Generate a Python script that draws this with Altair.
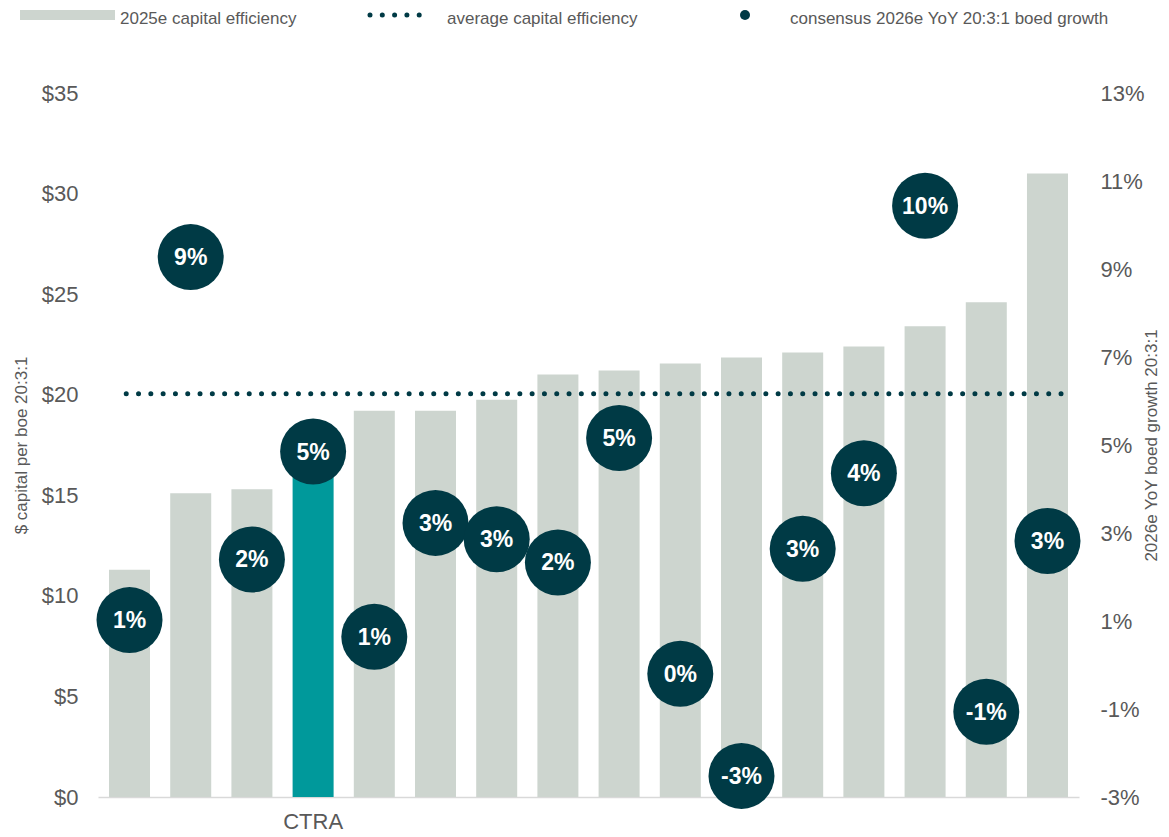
import json
import altair as alt
import pandas as pd

# ---- data ----
tickers = ["", "", "", "CTRA", "", "", "", "", "", "", "", "", "", "", "", ""]
capital_efficiency = [11.3, 15.1, 15.3, 16.5, 19.2, 19.2, 19.75, 21.0, 21.2, 21.55,
                      21.85, 22.1, 22.4, 23.4, 24.6, 31.0]
boed_growth = [1.02, 9.27, 2.40, 4.85, 0.64, 3.23, 2.86, 2.33, 5.16, -0.20,
               -2.52, 2.64, 4.36, 10.44, -1.06, 2.82]
growth_labels = ["1%", "9%", "2%", "5%", "1%", "3%", "3%", "2%", "5%", "0%",
                 "-3%", "3%", "4%", "10%", "-1%", "3%"]
average_efficiency = 20.05
highlight = "CTRA"
legend_labels = ["2025e capital efficiency", "average capital efficiency",
                 "consensus 2026e YoY 20:3:1 boed growth"]
left_ticks = [0, 5, 10, 15, 20, 25, 30, 35]
right_ticks = [-3, -1, 1, 3, 5, 7, 9, 11, 13]

df = pd.DataFrame({
    "pos": list(range(len(tickers))),
    "ticker": tickers,
    "cap": capital_efficiency,
    "growth": boed_growth,
    "glabel": growth_labels,
})
avg_df = pd.DataFrame({
    "start": [0], "end": [len(tickers) - 1], "avg": [average_efficiency],
})

FONT = "Liberation Sans, Arial, sans-serif"
GREY_TXT = "#595959"
BAR = "#CDD5CF"
TEAL = "#00999B"
DARK = "#003A45"

x_axis = alt.Axis(
    title=None, labelExpr=json.dumps(tickers) + "[datum.value]", labelAngle=0,
    ticks=False, domain=True, domainColor="#D9D9D9", domainWidth=1.5,
    labelPadding=14, labelFontSize=22, labelColor=GREY_TXT, labelFont=FONT,
    grid=False,
)
x_scale = alt.Scale(paddingInner=0.33, paddingOuter=0.18)
x_enc = alt.X("pos:O", axis=x_axis, scale=x_scale)

left_axis = alt.Axis(
    title="$ capital per boe 20:3:1", values=left_ticks,
    labelExpr="'$' + datum.value", ticks=False, tickSize=0, domain=False,
    grid=False, labelPadding=20, labelFontSize=22, labelColor=GREY_TXT,
    labelFont=FONT, titleFont=FONT, titleFontSize=17, titleFontWeight="normal",
    titleColor=GREY_TXT, titlePadding=11,
)
left_scale = alt.Scale(domain=[0, 35], nice=False, zero=True)

right_axis = alt.Axis(
    title="2026e YoY boed growth 20:3:1", orient="right", values=right_ticks,
    labelExpr="datum.value + '%'", ticks=False, tickSize=0, domain=False,
    grid=False, labelPadding=21, labelFontSize=22, labelColor=GREY_TXT,
    labelFont=FONT, titleFont=FONT, titleFontSize=17, titleFontWeight="normal",
    titleColor=GREY_TXT, titlePadding=16, titleAngle=270,
)
right_scale = alt.Scale(domain=[-3, 13], nice=False, zero=False)

bars = alt.Chart(df).mark_bar().encode(
    x=x_enc,
    y=alt.Y("cap:Q", axis=left_axis, scale=left_scale),
    color=alt.condition(alt.datum.ticker == highlight, alt.value(TEAL), alt.value(BAR)),
)
avg_line = alt.Chart(avg_df).mark_rule(
    color=DARK, strokeWidth=5, strokeDash=[0, 12.3], strokeCap="round"
).encode(
    x=alt.X("start:O", axis=x_axis, scale=x_scale, bandPosition=0.42),
    x2=alt.X2("end:O", bandPosition=1),
    y=alt.Y("avg:Q", axis=left_axis, scale=left_scale),
)
left = alt.layer(bars, avg_line)

bubbles = alt.Chart(df).mark_circle(size=4356, opacity=1, color=DARK).encode(
    x=x_enc,
    y=alt.Y("growth:Q", axis=right_axis, scale=right_scale),
)
bubble_text = alt.Chart(df).mark_text(
    font=FONT, fontWeight="bold", fontSize=23, color="white",
    align="center", baseline="middle", dy=1,
).encode(
    x=x_enc,
    y=alt.Y("growth:Q", axis=right_axis, scale=right_scale),
    text="glabel:N",
)
right = alt.layer(bubbles, bubble_text)

# ---- custom legend across the top ----
one = pd.DataFrame({"k": [0]})
LY = -78          # symbol centre line
LT = -69.5        # text baseline
leg_rect = alt.Chart(one).mark_rect(color=BAR).encode(
    x=alt.value(-78), x2=alt.value(17), y=alt.value(LY - 5), y2=alt.value(LY + 5))
leg_dots = alt.Chart(one).mark_rule(
    color=DARK, strokeWidth=5, strokeDash=[0, 12.3], strokeCap="round"
).encode(x=alt.value(272), x2=alt.value(333), y=alt.value(LY))
leg_dot = alt.Chart(one).mark_point(
    shape="circle", filled=True, size=100, color=DARK, opacity=1
).encode(x=alt.value(647), y=alt.value(LY))


def leg_text(label, xpos):
    return alt.Chart(one).mark_text(
        font=FONT, fontSize=17, color=GREY_TXT, align="left", baseline="alphabetic"
    ).encode(x=alt.value(xpos), y=alt.value(LT), text=alt.value(label))


legend = alt.layer(
    leg_rect, leg_text(legend_labels[0], 22),
    leg_dots, leg_text(legend_labels[1], 349),
    leg_dot, leg_text(legend_labels[2], 692),
)

chart = alt.layer(left, right, legend).resolve_scale(y="independent").properties(
    width=981, height=704,
    autosize=alt.AutoSizeParams(type="none"),
    padding={"left": 90, "top": 85, "right": 82, "bottom": 40},
    background="white",
).configure_view(stroke=None)

chart.save("out.html", embed_options={"renderer": "svg", "actions": False})
